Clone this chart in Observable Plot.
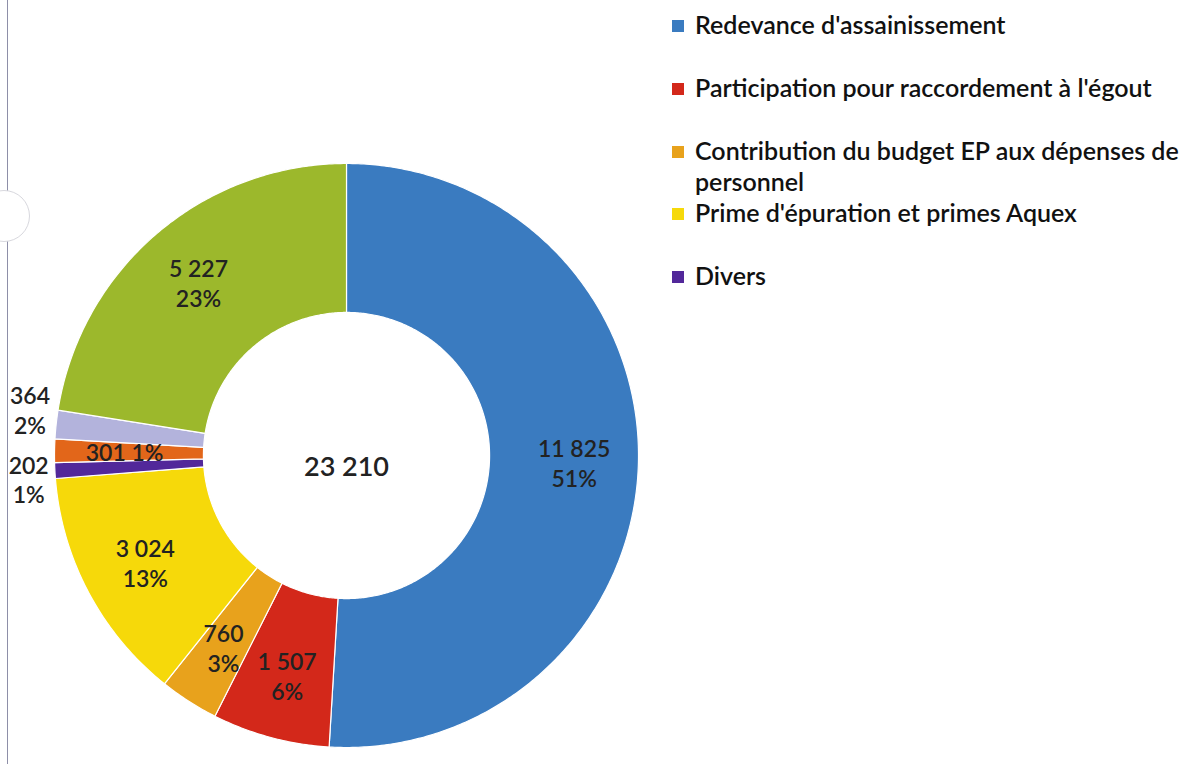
<!DOCTYPE html>
<html><head><meta charset="utf-8">
<script src="https://cdn.jsdelivr.net/npm/d3@7"></script>
<script src="https://cdn.jsdelivr.net/npm/@observablehq/plot@0.6"></script>
<style>
body{margin:0;background:#fff;}
#wrap{position:relative;width:1189px;height:764px;overflow:hidden;background:#fff;font-family:Lato,"Open Sans",sans-serif;}
#edge{position:absolute;left:7px;top:0;width:0;height:764px;border-left:1.5px solid #8e8fa8;}
#hole{position:absolute;left:-22px;top:190px;width:50px;height:50px;border-radius:50%;border:1.5px solid #d8d8de;background:#fff;}
#chart{position:absolute;left:0;top:0;}
#legend{position:absolute;left:672px;top:0;width:517px;}
.item{position:absolute;left:0;display:flex;align-items:flex-start;font-size:25px;color:#111;line-height:31px;font-weight:600;}
.sw{width:12px;height:12px;margin-top:11px;margin-right:11px;flex:none;}
</style></head><body>
<div id="wrap"><div id="edge"></div><div id="hole"></div><div id="chart"></div><div id="legend"></div></div>
<script>
// ---- data ----
const categories = ["Redevance d'assainissement","Participation pour raccordement à l'égout","Contribution du budget EP aux dépenses de personnel","Prime d'épuration et primes Aquex","Divers","Autre A","Autre B","Autre C"];
const values = [11825, 1507, 760, 3024, 202, 301, 364, 5227];
const valueLabels = ["11 825","1 507","760","3 024","202","301","364","5 227"];
const percentLabels = ["51%","6%","3%","13%","1%","1%","2%","23%"];
const colors = ["#3a7bc0","#d3281a","#e8a21c","#f6d90a","#52289a","#e2661a","#b3b3dc","#9cb82c"];
const legendItems = ["Redevance d'assainissement","Participation pour raccordement à l'égout","Contribution du budget EP aux dépenses de personnel","Prime d'épuration et primes Aquex","Divers"];
const totalLabel = "23 210";

// ---- label placement (style) ----
const labelPlacement = ["in","in","in","in","out","inline","out","in"];
const labelNudge = [0, 0, 0, 0, 7, 0, -12, 0];

const rOuter = 1, rInner = 0.49;
const pie = d3.pie().sort(null).value(d => d.value);
const rows = categories.map((c, i) => ({category: c, value: values[i], i}));
const arcs = pie(rows);

const pts = [];
arcs.forEach(a => {
  const n = Math.max(4, Math.ceil((a.endAngle - a.startAngle) / 0.01));
  for (let k = 0; k <= n; k++) {
    const t = a.startAngle + (a.endAngle - a.startAngle) * k / n;
    pts.push({category: a.data.category, x: rOuter * Math.sin(t), y: rOuter * Math.cos(t)});
  }
  for (let k = n; k >= 0; k--) {
    const t = a.startAngle + (a.endAngle - a.startAngle) * k / n;
    pts.push({category: a.data.category, x: rInner * Math.sin(t), y: rInner * Math.cos(t)});
  }
});

const labels = arcs.map(a => {
  const i = a.data.i;
  const mid = (a.startAngle + a.endAngle) / 2;
  const place = labelPlacement[i];
  const r = place === "out" ? 1.09 : place === "inline" ? 0.76 : 0.78;
  const text = place === "inline" ? valueLabels[i] + " " + percentLabels[i] : valueLabels[i] + "\n" + percentLabels[i];
  return {x: r * Math.sin(mid), y: r * Math.cos(mid), text, dy: labelNudge[i]};
});

const cx = 346, cy = 455, R = 292;
const chart = Plot.plot({
  width: 1189, height: 764,
  margin: 0,
  x: {domain: [-1, 1], range: [cx - R, cx + R], axis: null},
  y: {domain: [-1, 1], range: [cy + R, cy - R], axis: null},
  color: {domain: categories, range: colors},
  style: {background: "transparent", fontFamily: "Lato, 'Open Sans', sans-serif"},
  marks: [
    Plot.line(pts, {x: "x", y: "y", z: "category", fill: "category", stroke: "white", strokeWidth: 1.2, curve: "linear-closed"}),
    ...labels.map(l => Plot.text([l], {x: "x", y: "y", text: "text", dy: l.dy, fontSize: 23, fontWeight: 600, fill: "#222", lineHeight: 1.3})),
    Plot.text([totalLabel], {x: 0, y: 0, text: d => d, fontSize: 27, fontWeight: 600, fill: "#222", dy: 12})
  ]
});
document.getElementById("chart").appendChild(chart);

const tops = [9, 72, 135, 197, 260];
const lg = document.getElementById("legend");
legendItems.forEach((name, i) => {
  const el = document.createElement("div");
  el.className = "item";
  el.style.top = tops[i] + "px";
  el.innerHTML = `<div class="sw" style="background:${colors[categories.indexOf(name)]}"></div><div style="max-width:494px">${name}</div>`;
  lg.appendChild(el);
});
</script>
</body></html>
